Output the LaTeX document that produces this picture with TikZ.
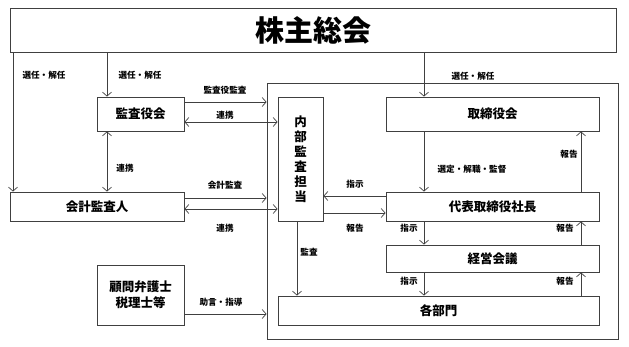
\documentclass[tikz,border=0pt]{standalone}
\usepackage{fontspec}
\setmainfont{Noto Sans CJK JP}
\usetikzlibrary{arrows.meta}
\begin{document}
\begin{tikzpicture}[x=1pt,y=-1pt,
  box/.style={draw=black!75,line width=0.8pt,rectangle,inner sep=0pt,font=\bfseries\fontsize{12.5}{14}\selectfont,align=center},
  lbl/.style={inner sep=0pt,font=\bfseries\fontsize{8.6}{9}\selectfont},
  arr/.style={draw=black!75,line width=0.7pt,-{Straight Barb[length=4pt,width=9pt]}},
  darr/.style={draw=black!75,line width=0.7pt,{Straight Barb[length=4pt,width=9pt]}-{Straight Barb[length=4pt,width=9pt]}}]
\useasboundingbox (0,0) rectangle (629,347);
% nodes
\node[box,minimum width=606pt,minimum height=44pt,font=\bfseries\fontsize{29}{32}\selectfont] (top) at (313,30) {株主総会};
\node[box,minimum width=351pt,minimum height=256pt] (grp) at (442.5,211) {};
\node[box,minimum width=87pt,minimum height=34pt] (kansa) at (140.5,114) {監査役会};
\node[box,minimum width=45pt,minimum height=124pt,font=\bfseries\fontsize{12.5}{15}\selectfont] (naibu) at (300.5,159) {内\\部\\監\\査\\担\\当};
\node[box,minimum width=213pt,minimum height=34pt] (tori) at (492.5,114) {取締役会};
\node[box,minimum width=174pt,minimum height=29pt] (kaikei) at (97,206.5) {会計監査人};
\node[box,minimum width=213pt,minimum height=29pt] (daihyo) at (492.5,206.5) {代表取締役社長};
\node[box,minimum width=213pt,minimum height=27pt] (keiei) at (492.5,258.5) {経営会議};
\node[box,minimum width=321pt,minimum height=29pt] (bumon) at (438.5,310.5) {各部門};
\node[box,minimum width=87pt,minimum height=60pt,font=\bfseries\fontsize{12.5}{16}\selectfont] (komon) at (140.5,295) {顧問弁護士\\税理士等};
% guide coordinates
\coordinate (xa) at (13,0);
\coordinate (xb) at (107,0);
\coordinate (xc) at (424,0);
\coordinate (xd) at (297,0);
\coordinate (xe) at (581,0);
\coordinate (ya) at (0,102);
\coordinate (yb) at (0,122);
\coordinate (yc) at (0,198);
\coordinate (yd) at (0,209);
\coordinate (ye) at (0,314);
\coordinate (yf) at (0,196);
\coordinate (yg) at (0,213);
% connectors
\draw[arr] (top.south -| xa) -- (kaikei.north -| xa);
\draw[arr] (top.south -| xb) -- (kansa.north -| xb);
\draw[arr] (top.south -| xc) -- (tori.north -| xc);
\draw[arr] (kansa.east |- ya) -- (grp.west |- ya);
\draw[darr] (kansa.east |- yb) -- (naibu.west |- yb);
\draw[darr] (kansa.south -| xb) -- (kaikei.north -| xb);
\draw[arr] (kaikei.east |- yc) -- (grp.west |- yc);
\draw[darr] (kaikei.east |- yd) -- (naibu.west |- yd);
\draw[arr] (komon.east |- ye) -- (grp.west |- ye);
\draw[arr] (naibu.south -| xd) -- (bumon.north -| xd);
\draw[arr] (tori.south -| xc) -- (daihyo.north -| xc);
\draw[arr] (daihyo.north -| xe) -- (tori.south -| xe);
\draw[arr] (daihyo.west |- yf) -- (naibu.east |- yf);
\draw[arr] (naibu.east |- yg) -- (daihyo.west |- yg);
\draw[arr] (daihyo.south -| xc) -- (keiei.north -| xc);
\draw[arr] (keiei.north -| xe) -- (daihyo.south -| xe);
\draw[arr] (keiei.south -| xc) -- (bumon.north -| xc);
\draw[arr] (bumon.north -| xe) -- (keiei.south -| xe);
% labels
\node[lbl] (l1) at (44,75) {選任・解任};
\node[lbl] (l2) at (140,75) {選任・解任};
\node[lbl] (l3) at (473,76) {選任・解任};
\node[lbl] (l4) at (225,90) {監査役監査};
\node[lbl] (l5) at (225,115) {連携};
\node[lbl] (l6) at (125,168) {連携};
\node[lbl] (l7) at (225,185) {会計監査};
\node[lbl] (l8) at (225,228) {連携};
\node[lbl] (l9) at (221,302) {助言・指導};
\node[lbl] (l10) at (309,252) {監査};
\node[lbl] (l11) at (472,169) {選定・解職・監督};
\node[lbl] (l12) at (569,154) {報告};
\node[lbl] (l13) at (355,184) {指示};
\node[lbl] (l14) at (355,228) {報告};
\node[lbl] (l15) at (409,228) {指示};
\node[lbl] (l16) at (565,228) {報告};
\node[lbl] (l17) at (409,281) {指示};
\node[lbl] (l18) at (565,281) {報告};
\end{tikzpicture}
\end{document}
